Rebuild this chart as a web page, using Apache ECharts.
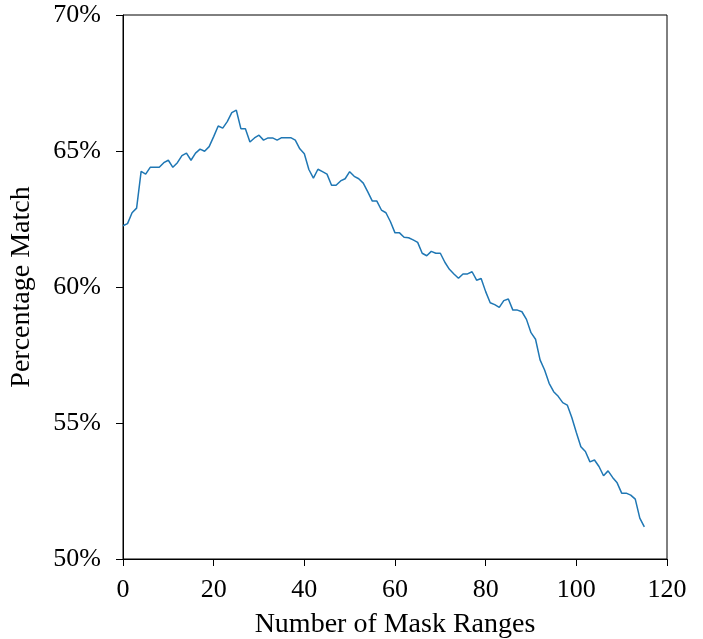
<!DOCTYPE html>
<html>
<head>
<meta charset="utf-8">
<script src="https://cdn.jsdelivr.net/npm/echarts@6/dist/echarts.min.js"></script>
<style>
  html, body { margin: 0; padding: 0; background: #fff; }
  #chart { width: 703px; height: 639px; }
</style>
</head>
<body>
<div id="chart"></div>
<script>
// number of mask ranges 0..115, percentage match
const maskRanges = []
for (let i = 0; i <= 115; i++) maskRanges.push(i)

const matchPct = [
  62.25, 62.33, 62.73, 62.9, 64.25, 64.15, 64.4, 64.4, 64.4, 64.57,
  64.66, 64.4, 64.57, 64.83, 64.92, 64.66, 64.92, 65.07, 64.99, 65.16,
  65.53, 65.92, 65.84, 66.08, 66.41, 66.5, 65.82, 65.82, 65.33, 65.48,
  65.58, 65.4, 65.48, 65.48, 65.4, 65.49, 65.49, 65.49, 65.4, 65.08,
  64.9, 64.32, 64.0, 64.33, 64.24, 64.15, 63.74, 63.74, 63.9, 63.98,
  64.24, 64.07, 63.98, 63.82, 63.5, 63.16, 63.16, 62.83, 62.73, 62.4,
  61.99, 61.99, 61.83, 61.81, 61.73, 61.64, 61.24, 61.15, 61.31, 61.24,
  61.24, 60.91, 60.65, 60.48, 60.32, 60.48, 60.48, 60.56, 60.25, 60.31,
  59.83, 59.42, 59.35, 59.25, 59.5, 59.56, 59.15, 59.15, 59.09, 58.81,
  58.32, 58.08, 57.32, 56.95, 56.46, 56.15, 55.98, 55.75, 55.66, 55.2,
  54.65, 54.13, 53.95, 53.57, 53.64, 53.4, 53.06, 53.24, 53.0, 52.8,
  52.42, 52.42, 52.35, 52.2, 51.5, 51.18
]

const serif = 'Liberation Serif'

let chart = echarts.init(document.getElementById('chart'))
let option = {
  animation: false,
  grid: {
    left: 123,
    right: 36,
    top: 15,
    bottom: 80,
    containLabel: false,
    outerBoundsMode: 'none',
    show: true,
    borderColor: '#000',
    borderWidth: 1
  },
  xAxis: {
    type: 'value',
    min: 0,
    max: 120,
    interval: 20,
    name: 'Number of Mask Ranges',
    nameLocation: 'middle',
    nameGap: 52,
    nameMoveOverlap: false,
    nameTextStyle: { fontFamily: serif, fontSize: 28, color: '#000' },
    axisLine: { show: true, lineStyle: { color: '#000', width: 1 } },
    axisTick: { show: true, length: 7, lineStyle: { color: '#000', width: 1 } },
    axisLabel: { fontFamily: serif, fontSize: 26, color: '#000', margin: 18 },
    splitLine: { show: false }
  },
  yAxis: {
    type: 'value',
    min: 50,
    max: 70,
    interval: 5,
    name: 'Percentage Match',
    nameLocation: 'middle',
    nameGap: 87,
    nameMoveOverlap: false,
    nameTextStyle: { fontFamily: serif, fontSize: 28, color: '#000' },
    axisLine: { show: true, lineStyle: { color: '#000', width: 1 } },
    axisTick: { show: true, length: 7, lineStyle: { color: '#000', width: 1 } },
    axisLabel: { fontFamily: serif, fontSize: 26, color: '#000', margin: 22, formatter: '{value}%' },
    splitLine: { show: false }
  },
  series: [
    {
      type: 'line',
      data: maskRanges.map((x, i) => [x, matchPct[i]]),
      showSymbol: false,
      lineStyle: { color: '#1f77b4', width: 1.5 }
    }
  ]
}
chart.setOption(option)
</script>
</body>
</html>
